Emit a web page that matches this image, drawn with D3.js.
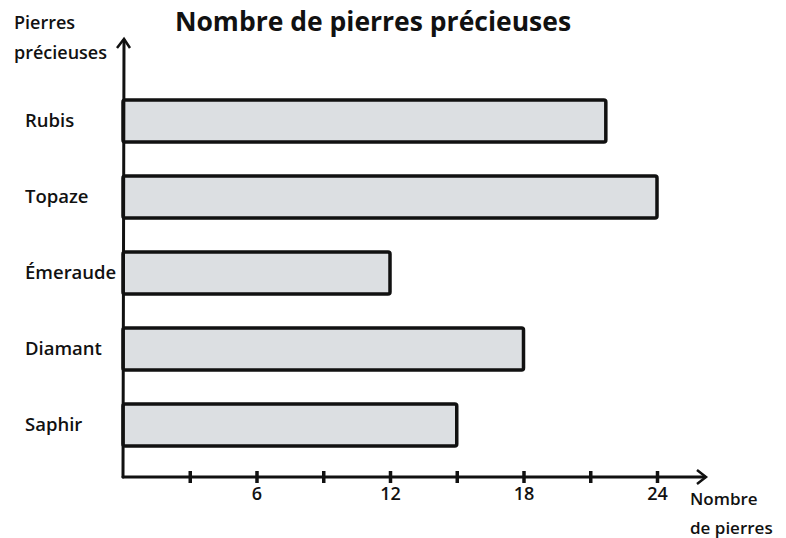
<!DOCTYPE html>
<html>
<head>
<meta charset="utf-8">
<script src="https://cdn.jsdelivr.net/npm/d3@7"></script>
<style>
  body { margin: 0; background: #fff; }
  text { font-family: "Open Sans", sans-serif; fill: #111; }
</style>
</head>
<body>
<svg id="chart" width="786" height="538"></svg>
<script>
var stones = ["Rubis", "Topaze", "Émeraude", "Diamant", "Saphir"];
var counts = [21.7, 24, 12, 18, 15];
var tickValues = [3, 6, 9, 12, 15, 18, 21, 24];
var tickLabels = [6, 12, 18, 24];

var data = stones.map(function(s, i) { return {name: s, value: counts[i]}; });

var svg = d3.select("#chart");
var x0 = 123, yBase = 477;

var x = d3.scaleLinear().domain([0, 24]).range([x0, 657]);
var y = d3.scaleBand().domain(stones).range([83, 463]).paddingInner(0.45).paddingOuter(0.225);

// title
svg.append("text")
    .attr("x", 373).attr("y", 31)
    .attr("text-anchor", "middle")
    .style("font-size", "26.5px").style("font-weight", 700)
    .text("Nombre de pierres précieuses");

// y axis title
svg.append("text").attr("x", 14).attr("y", 29)
    .style("font-size", "18px").style("font-weight", 600).text("Pierres");
svg.append("text").attr("x", 14).attr("y", 59)
    .style("font-size", "18px").style("font-weight", 600).text("précieuses");

// bars
svg.selectAll("rect.bar")
    .data(data)
    .enter().append("rect")
    .attr("class", "bar")
    .attr("x", x(0))
    .attr("y", function(d) { return y(d.name); })
    .attr("width", function(d) { return x(d.value) - x(0); })
    .attr("height", y.bandwidth())
    .attr("rx", 2)
    .attr("fill", "#dcdfe2")
    .attr("stroke", "#111")
    .attr("stroke-width", 3.5);

// category labels
svg.selectAll("text.cat")
    .data(data)
    .enter().append("text")
    .attr("class", "cat")
    .attr("x", 25)
    .attr("y", function(d) { return y(d.name) + y.bandwidth() / 2; })
    .attr("dy", "0.35em")
    .style("font-size", "18.5px").style("font-weight", 600)
    .text(function(d) { return d.name; });

// x axis
var xAxis = d3.axisBottom(x)
    .tickValues(tickValues)
    .tickSize(0)
    .tickPadding(10)
    .tickFormat(function(d) { return tickLabels.indexOf(d) >= 0 ? d : ""; });

var gx = svg.append("g").attr("transform", "translate(0," + yBase + ")").call(xAxis);
gx.select(".domain").remove();
gx.selectAll(".tick text")
    .style("font-family", "'Open Sans', sans-serif")
    .style("font-size", "18px").style("font-weight", 600)
    .attr("fill", "#111");
gx.selectAll(".tick").append("line")
    .attr("y1", -6).attr("y2", 6)
    .attr("stroke", "#111").attr("stroke-width", 3.5);

// axis lines with arrows
svg.append("line")
    .attr("x1", x0).attr("y1", yBase).attr("x2", 705).attr("y2", yBase)
    .attr("stroke", "#111").attr("stroke-width", 3).attr("stroke-linecap", "round");
svg.append("path")
    .attr("d", "M697," + (yBase - 7) + "L706," + yBase + "L697," + (yBase + 7))
    .attr("fill", "none").attr("stroke", "#111").attr("stroke-width", 2.5);

svg.append("line")
    .attr("x1", x0).attr("y1", yBase).attr("x2", x0 + 1).attr("y2", 40)
    .attr("stroke", "#111").attr("stroke-width", 3).attr("stroke-linecap", "round");
svg.append("path")
    .attr("d", "M" + (x0 - 6) + ",48L" + (x0 + 1) + ",39L" + (x0 + 7) + ",48")
    .attr("fill", "none").attr("stroke", "#111").attr("stroke-width", 2.5);

// x axis title
svg.append("text").attr("x", 690).attr("y", 505)
    .style("font-size", "17px").style("font-weight", 600).text("Nombre");
svg.append("text").attr("x", 690).attr("y", 534)
    .style("font-size", "17px").style("font-weight", 600).text("de pierres");
</script>
</body>
</html>
